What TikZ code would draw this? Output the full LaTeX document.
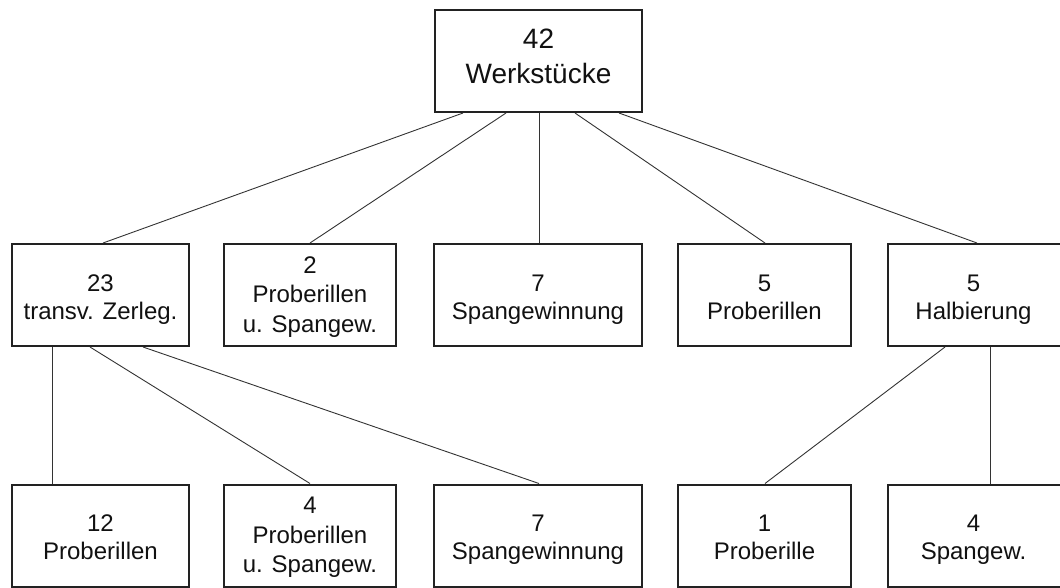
\documentclass[tikz,border=0pt]{standalone}
\usepackage{fontspec}
\setmainfont{Liberation Sans}
\definecolor{boxline}{HTML}{222222}
\definecolor{conline}{HTML}{333333}
\definecolor{txt}{HTML}{111111}
\begin{document}
\begin{tikzpicture}[x=1pt,y=-1pt,
  box/.style={draw=boxline,line width=2pt,inner sep=0pt,minimum height=102pt},
  lbl/.style={inner sep=0pt,align=center,text=txt,font=\fontsize{24}{28}\selectfont},
  lblthree/.style={lbl,font=\fontsize{24}{29.5}\selectfont},
  lbltop/.style={lbl,font=\fontsize{28}{35}\selectfont},
  con/.style={draw=conline,line width=0.9pt}]
\useasboundingbox (0,0) rectangle (1060,587);
\clip (0,0) rectangle (1060,587);
% top
\node[box,minimum width=207pt] (top) at (538.5,61) {};
\node[lbltop] (topt) at (538.5,58.5) {\strut 42\\\strut Werkstücke};
% middle row
\node[box,minimum width=177pt] (m1) at (100.5,295) {};
\node[box,minimum width=172pt] (m2) at (310,295) {};
\node[box,minimum width=208pt] (m3) at (538,295) {};
\node[box,minimum width=173pt] (m4) at (764.5,295) {};
\node[box,minimum width=173pt] (m5) at (974.5,295) {};
\node[lbl] (m1t) at (100.5,299.4) {\strut 23\\\strut transv. Zerleg.};
\node[lblthree] (m2t) at (310,296.6) {\strut 2\\\strut Proberillen\\\strut u. Spangew.};
\node[lbl] (m3t) at (538,299.4) {\strut 7\\\strut Spangewinnung};
\node[lbl] (m4t) at (764.5,299.4) {\strut 5\\\strut Proberillen};
\node[lbl] (m5t) at (973.5,299.4) {\strut 5\\\strut Halbierung};
% bottom row
\node[box,minimum width=177pt] (b1) at (100.5,535.5) {};
\node[box,minimum width=172pt] (b2) at (310,535.5) {};
\node[box,minimum width=208pt] (b3) at (538,535.5) {};
\node[box,minimum width=173pt] (b4) at (764.5,535.5) {};
\node[box,minimum width=173pt] (b5) at (974.5,535.5) {};
\node[lbl] (b1t) at (100.5,539.9) {\strut 12\\\strut Proberillen};
\node[lblthree] (b2t) at (310,537.1) {\strut 4\\\strut Proberillen\\\strut u. Spangew.};
\node[lbl] (b3t) at (538,539.9) {\strut 7\\\strut Spangewinnung};
\node[lbl] (b4t) at (764.5,539.9) {\strut 1\\\strut Proberille};
\node[lbl] (b5t) at (973.5,539.9) {\strut 4\\\strut Spangew.};
% connectors top -> middle
\draw[con] ([xshift=29pt]top.south west) -- ([xshift=2.5pt]m1.north);
\draw[con] ([xshift=72pt]top.south west) -- (m2.north);
\draw[con] ([xshift=105pt]top.south west) -- ([xshift=1pt]m3.north);
\draw[con] ([xshift=141pt]top.south west) -- ([xshift=0.5pt]m4.north);
\draw[con] ([xshift=185pt]top.south west) -- ([xshift=2.5pt]m5.north);
% connectors m1 -> bottom
\draw[con] ([xshift=41pt]m1.south west) -- ([xshift=41pt]b1.north west);
\draw[con] ([xshift=79pt]m1.south west) -- (b2.north);
\draw[con] ([xshift=132pt]m1.south west) -- ([xshift=1pt]b3.north);
% connectors m5 -> bottom
\draw[con] ([xshift=58pt]m5.south west) -- ([xshift=0.5pt]b4.north);
\draw[con] ([xshift=103pt]m5.south west) -- ([xshift=103pt]b5.north west);
\end{tikzpicture}
\end{document}
